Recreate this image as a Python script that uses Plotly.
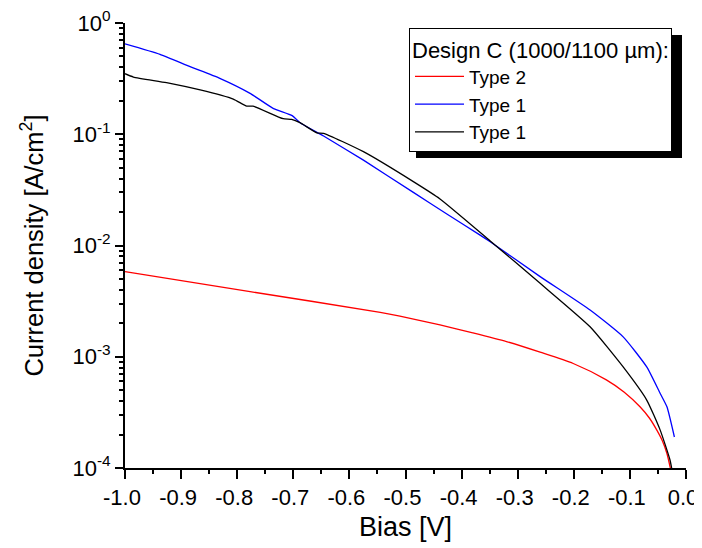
import plotly.graph_objects as go

# ---- data ----
bias_type2 = [-1.0, -0.777, -0.545, -0.51, -0.4385, -0.38, -0.32, -0.26, -0.201, -0.142,
              -0.11, -0.082, -0.065, -0.052, -0.042, -0.034, -0.026]
j_type2 = [0.00582, 0.00385, 0.00251, 0.00232, 0.00193, 0.00164, 0.00137, 0.00110, 0.00087,
           0.00062, 0.00048, 0.000355, 0.00028, 0.000219, 0.000175, 0.000135, 0.00009]

bias_type1_blue = [-1.0, -0.9376, -0.884, -0.831, -0.777, -0.736, -0.702, -0.688, -0.646,
                   -0.575, -0.486, -0.427, -0.367, -0.349, -0.26, -0.171, -0.112, -0.07,
                   -0.046, -0.034, -0.0207]
j_type1_blue = [0.65, 0.523, 0.405, 0.318, 0.233, 0.171, 0.147, 0.127, 0.0964,
                0.0585, 0.0300, 0.0193, 0.0124, 0.0108, 0.00525, 0.00263, 0.00151, 0.00081,
                0.000468, 0.000355, 0.00019]

bias_type1_black = [-1.0, -0.985, -0.926, -0.866, -0.807, -0.783, -0.772, -0.718, -0.703,
                    -0.688, -0.658, -0.646, -0.575, -0.486, -0.4385, -0.349, -0.26, -0.171,
                    -0.112, -0.07, -0.046, -0.0285, -0.024]
j_type1_black = [0.35, 0.327, 0.291, 0.25, 0.207, 0.179, 0.179, 0.138, 0.136,
                 0.127, 0.103, 0.102, 0.0697, 0.0375, 0.0262, 0.0110, 0.00457, 0.00186,
                 0.00081, 0.000408, 0.000219, 0.000118, 0.00009]

x_tick_vals = [-1.0, -0.9, -0.8, -0.7, -0.6, -0.5, -0.4, -0.3, -0.2, -0.1, 0.0]
x_tick_text = ["-1.0", "-0.9", "-0.8", "-0.7", "-0.6", "-0.5", "-0.4", "-0.3", "-0.2", "-0.1", "0.0"]
y_tick_vals = [1e-4, 1e-3, 1e-2, 1e-1, 1e0]
y_tick_text = ["10<sup>-4</sup>", "10<sup>-3</sup>", "10<sup>-2</sup>", "10<sup>-1</sup>", "10<sup>0</sup>"]
x_minor_vals = [-0.95, -0.85, -0.75, -0.65, -0.55, -0.45, -0.35, -0.25, -0.15, -0.05]
y_minor_vals = [m * 10.0 ** e for e in range(-4, 0) for m in range(2, 10)]

FONT = "Arial, Liberation Sans, sans-serif"

# page has an 8px body margin: figure is offset by (8, 8)
OFF = 8
W, H = 702 - OFF, 548 - OFF
X0, X1, Y0, Y1 = 125, 686, 23, 468  # target plot area in page pixels
L, R = X0 - OFF, W + OFF - X1
T, B = Y0 - OFF, H + OFF - Y1


def px_x(x):  # page pixel -> paper x
    return (x - X0) / (X1 - X0)


def px_y(y):  # page pixel -> paper y
    return (Y1 - y) / (Y1 - Y0)


fig = go.Figure()
fig.add_trace(go.Scatter(x=bias_type2, y=j_type2, mode="lines", name="Type 2",
                         line=dict(color="#FF0000", width=1.3, shape="spline", smoothing=0.7)))
fig.add_trace(go.Scatter(x=bias_type1_blue, y=j_type1_blue, mode="lines", name="Type 1",
                         line=dict(color="#0000FF", width=1.3, shape="spline", smoothing=0.5)))
fig.add_trace(go.Scatter(x=bias_type1_black, y=j_type1_black, mode="lines", name="Type 1",
                         line=dict(color="#000000", width=1.3, shape="spline", smoothing=0.5)))

# legend shadow
fig.add_shape(type="rect", xref="paper", yref="paper",
              x0=px_x(416), x1=px_x(682), y0=px_y(158), y1=px_y(35),
              fillcolor="black", line=dict(width=0), layer="above")

fig.update_layout(
    width=W, height=H,
    margin=dict(l=L, r=R, t=T, b=B, autoexpand=False),
    paper_bgcolor="white", plot_bgcolor="white",
    font=dict(family=FONT, color="black", size=21),
    showlegend=True,
    legend=dict(
        x=px_x(409), y=px_y(28), xanchor="left", yanchor="top",
        bgcolor="white", bordercolor="black", borderwidth=1,
        font=dict(family=FONT, size=19, color="black"),
        title=dict(text="Design C (1000/1100 \u00b5m):", side="top",
                   font=dict(family=FONT, size=22, color="black")),
        tracegroupgap=0, itemwidth=49,
    ),
    xaxis=dict(
        range=[-1.0, 0.0], showgrid=False, zeroline=False, automargin=False,
        showline=True, linecolor="black", linewidth=2, mirror=False,
        tickmode="array", tickvals=x_tick_vals, ticktext=x_tick_text,
        ticks="outside", ticklen=9, tickwidth=2, tickcolor="black",
        tickfont=dict(family=FONT, size=22), ticklabeloverflow="allow",
        ticklabelshift=-3,
        minor=dict(tickmode="array", tickvals=x_minor_vals, ticks="outside",
                   ticklen=4, tickwidth=2, tickcolor="black", showgrid=False),
        title=dict(text="Bias [V]", font=dict(family=FONT, size=27), standoff=8),
    ),
    yaxis=dict(
        type="log", range=[-4, 0], showgrid=False, zeroline=False, automargin=False,
        showline=True, linecolor="black", linewidth=2, mirror=False,
        tickmode="array", tickvals=y_tick_vals, ticktext=y_tick_text,
        ticks="outside", ticklen=8, tickwidth=2, tickcolor="black",
        tickfont=dict(family=FONT, size=22), ticklabeloverflow="allow",
        minor=dict(tickmode="array", tickvals=y_minor_vals, ticks="outside",
                   ticklen=4, tickwidth=1.5, tickcolor="black", showgrid=False),
        title=dict(text="Current density [A/cm<sup>2</sup>]", font=dict(family=FONT, size=25.5),
                   standoff=22),
    ),
)

fig.write_html("out.html")
